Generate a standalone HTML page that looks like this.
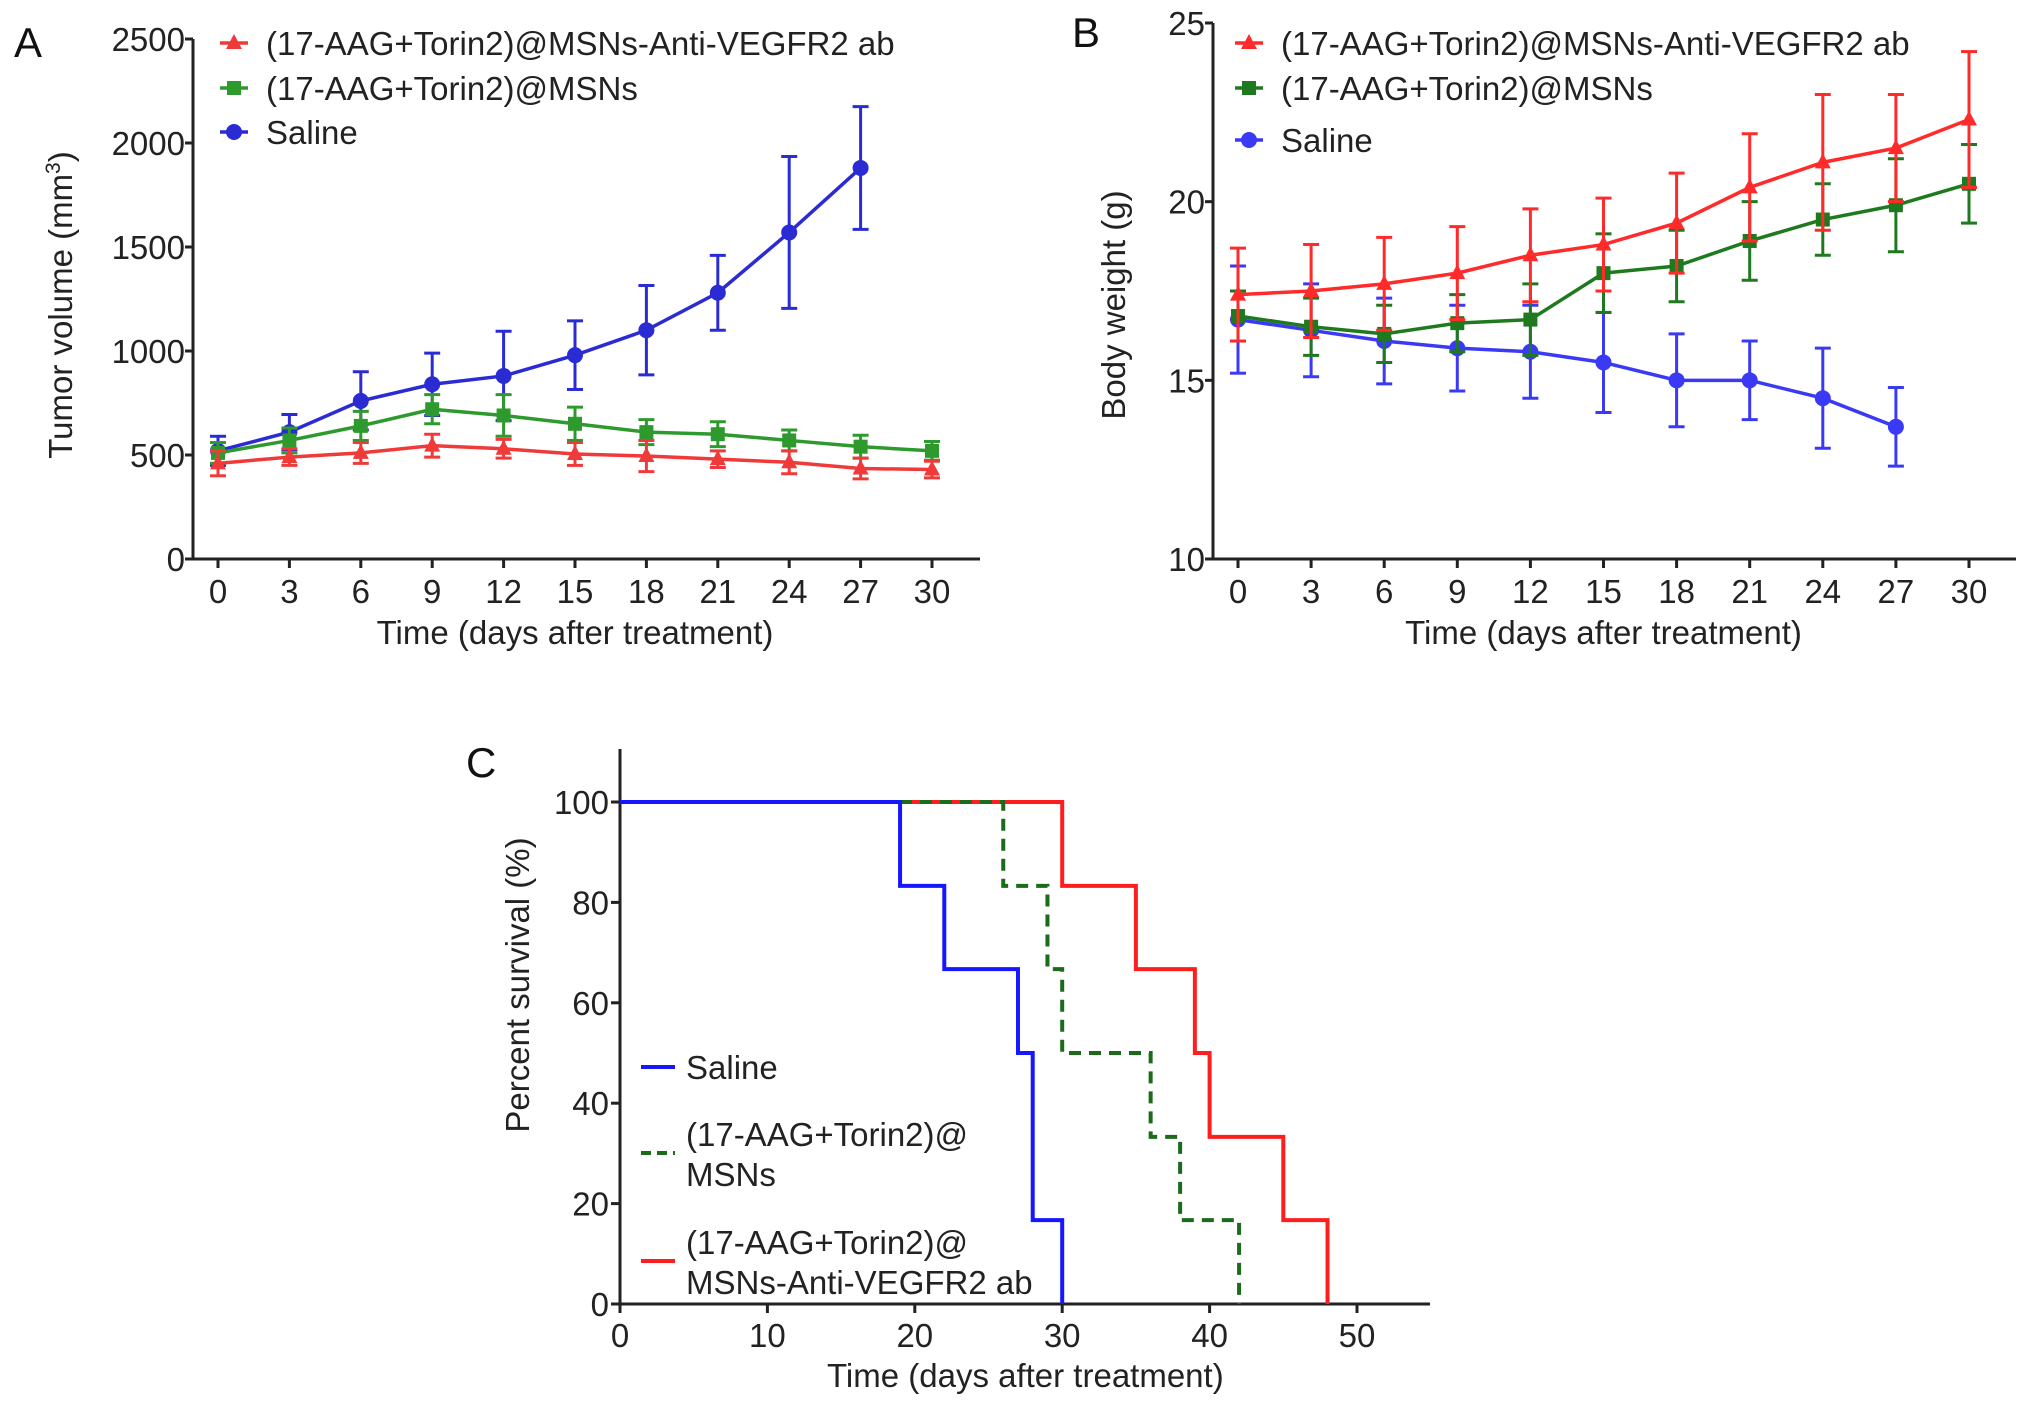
<!DOCTYPE html>
<html><head><meta charset="utf-8"><style>
html,body{margin:0;padding:0;background:#fff;}
svg{display:block;font-family:"Liberation Sans",Arial,sans-serif;}
</style></head><body>
<svg id="fig" width="2032" height="1408" viewBox="0 0 2032 1408" xmlns="http://www.w3.org/2000/svg"></svg>
<script>
// ---- Panel A data ----
const daysA = [0,3,6,9,12,15,18,21,24,27,30];
const tumorRed = [460,490,510,545,530,505,495,480,465,435,430];
const tumorRedErr = [60,40,50,55,45,55,75,40,55,50,40];
const tumorGreen = [510,570,640,720,690,650,610,600,570,540,520];
const tumorGreenErr = [50,60,70,70,100,80,60,60,50,55,45];
const tumorBlue = [520,610,760,840,880,980,1100,1280,1570,1880];
const tumorBlueErr = [70,85,140,150,215,165,215,180,365,295];
const tickA = [0,500,1000,1500,2000,2500];
// ---- Panel B data ----
const weightRed = [17.4,17.5,17.7,18.0,18.5,18.8,19.4,20.4,21.1,21.5,22.3];
const weightRedErr = [1.3,1.3,1.3,1.3,1.3,1.3,1.4,1.5,1.9,1.5,1.9];
const weightGreen = [16.8,16.5,16.3,16.6,16.7,18.0,18.2,18.9,19.5,19.9,20.5];
const weightGreenErr = [0.7,0.8,0.8,0.8,1.0,1.1,1.0,1.1,1.0,1.3,1.1];
const weightBlue = [16.7,16.4,16.1,15.9,15.8,15.5,15.0,15.0,14.5,13.7];
const weightBlueErr = [1.5,1.3,1.2,1.2,1.3,1.4,1.3,1.1,1.4,1.1];
const tickB = [10,15,20,25];
// ---- Panel C data ----
const survBlueT = [0,19,22,27,28,30];
const survBlueV = [100,83.3,66.7,50,16.7,0];
const survGreenT = [0,26,29,30,36,38,42];
const survGreenV = [100,83.3,66.7,50,33.3,16.7,0];
const survRedT = [0,30,35,39,40,45,48];
const survRedV = [100,83.3,66.7,50,33.3,16.7,0];
const tickCx = [0,10,20,30,40,50];
const tickCy = [0,20,40,60,80,100];

const FS = 33;
const svg = document.getElementById('fig');
const NS = 'http://www.w3.org/2000/svg';
function el(tag, attrs, parent){const e=document.createElementNS(NS,tag);for(const k in attrs)e.setAttribute(k,attrs[k]);(parent||svg).appendChild(e);return e;}
function txt(x,y,s,attrs,parent){const t=el('text',Object.assign({x:x,y:y},attrs||{}),parent);t.textContent=s;return t;}

function marker(g,shape,x,y,c){
  let m;
  if(shape==='tri') m=el('polygon',{points:`${x},${y-9} ${x-8},${y+6} ${x+8},${y+6}`,fill:c},g);
  else if(shape==='sq') m=el('rect',{x:x-7,y:y-7,width:14,height:14,fill:c},g);
  else m=el('circle',{cx:x,cy:y,r:8,fill:c},g);
  return m;
}

function linePanel(cfg){
  const g=el('g',{});
  
  
  const X=d=>cfg.x0+(d-0)/30*(cfg.x30-cfg.x0);
  const Y=v=>cfg.yb+(v-cfg.ymin)/(cfg.ymax-cfg.ymin)*(cfg.yt-cfg.yb);
  const ax=el('line',{x1:cfg.ax,y1:cfg.yt,x2:cfg.ax,y2:cfg.yb,stroke:'#222','stroke-width':3},g);
  
  const bx=el('line',{x1:cfg.ax,y1:cfg.yb,x2:cfg.xend,y2:cfg.yb,stroke:'#222','stroke-width':3},g);
  
  cfg.yticks.forEach(v=>{
    el('line',{x1:cfg.ax-8,y1:Y(v),x2:cfg.ax,y2:Y(v),stroke:'#222','stroke-width':3},g);
    const t=txt(cfg.ax-8,Y(v)+12,String(v),{'font-size':FS,'text-anchor':'end',fill:'#222'},g);
    
  });
  daysA.forEach(d=>{
    el('line',{x1:X(d),y1:cfg.yb,x2:X(d),y2:cfg.yb+9,stroke:'#222','stroke-width':3},g);
    const t=txt(X(d),cfg.yb+44,String(d),{'font-size':FS,'text-anchor':'middle',fill:'#222'},g);
    
  });
  const xt=txt((cfg.x0+cfg.x30)/2,cfg.yb+85,'Time (days after treatment)',{'font-size':FS,'text-anchor':'middle',fill:'#222'},g);
  
  const yt=txt(0,0,'',{'font-size':FS,'text-anchor':'middle',fill:'#222',transform:`translate(${cfg.ytx},${cfg.yty}) rotate(-90)`},g);
  
  if(cfg.sup){yt.textContent='Tumor volume (mm';const s=el('tspan',{'font-size':21,dy:-12},yt);s.textContent='3';const s2=el('tspan',{dy:12},yt);s2.textContent=')';}
  else yt.textContent=cfg.ytitle;
  const pl=txt(cfg.lx,cfg.ly,cfg.letter,{'font-size':42,fill:'#111'},g);
  
  cfg.series.forEach(s=>{
    const sg=el('g',{},g);
    
    
    s.vals.forEach((v,i)=>{
      const x=X(daysA[i]),e=s.err[i];
      el('line',{x1:x,y1:Y(v-e),x2:x,y2:Y(v+e),stroke:s.c,'stroke-width':3},sg);
      el('line',{x1:x-8,y1:Y(v-e),x2:x+8,y2:Y(v-e),stroke:s.c,'stroke-width':3},sg);
      el('line',{x1:x-8,y1:Y(v+e),x2:x+8,y2:Y(v+e),stroke:s.c,'stroke-width':3},sg);
    });
    el('polyline',{points:s.vals.map((v,i)=>X(daysA[i])+','+Y(v)).join(' '),fill:'none',stroke:s.c,'stroke-width':3.5},sg);
    s.vals.forEach((v,i)=>{const m=marker(sg,s.shape,X(daysA[i]),Y(v),s.c);});
  });
  cfg.legend.forEach((L,i)=>{
    const lg=el('g',{},g);
    
    
    const y=cfg.legY[i];
    el('line',{x1:cfg.legX-14,y1:y,x2:cfg.legX+14,y2:y,stroke:L.c,'stroke-width':3.5},lg);
    marker(lg,L.shape,cfg.legX,y,L.c);
    txt(cfg.legX+32,y+12,L.t,{'font-size':FS,fill:'#222'},lg);
  });
}

const LT1='(17-AAG+Torin2)@MSNs-Anti-VEGFR2 ab', LT2='(17-AAG+Torin2)@MSNs';
linePanel({name:'panel-a-tumor-volume',ax:193,yt:39,yb:559,ymin:0,ymax:2500,x0:218,x30:932,xend:980,yticks:tickA,
  sup:true,ytx:72,yty:305,letter:'A',lx:14,ly:57,legX:234,legY:[43,88,132],
  series:[
    {name:'series-saline',vals:tumorBlue,err:tumorBlueErr,c:'#2b2bd4',shape:'ci'},
    {name:'series-msns',vals:tumorGreen,err:tumorGreenErr,c:'#2e9a2e',shape:'sq'},
    {name:'series-msns-anti-vegfr2',vals:tumorRed,err:tumorRedErr,c:'#f03a3a',shape:'tri'}],
  legend:[{t:LT1,c:'#f03a3a',shape:'tri'},{t:LT2,c:'#2e9a2e',shape:'sq'},{t:'Saline',c:'#2b2bd4',shape:'ci'}]});
linePanel({name:'panel-b-body-weight',ax:1213,yt:23,yb:559,ymin:10,ymax:25,x0:1238,x30:1969,xend:2016,yticks:tickB,
  ytitle:'Body weight (g)',ytx:1125,yty:305,letter:'B',lx:1072,ly:47,legX:1249,legY:[43,88,140],
  series:[
    {name:'series-saline',vals:weightBlue,err:weightBlueErr,c:'#3a3af5',shape:'ci'},
    {name:'series-msns',vals:weightGreen,err:weightGreenErr,c:'#1f7a1f',shape:'sq'},
    {name:'series-msns-anti-vegfr2',vals:weightRed,err:weightRedErr,c:'#ff2a2a',shape:'tri'}],
  legend:[{t:LT1,c:'#ff2a2a',shape:'tri'},{t:LT2,c:'#1f7a1f',shape:'sq'},{t:'Saline',c:'#3a3af5',shape:'ci'}]});

(function(){
  const g=el('g',{});
  
  
  const ax0=620, yb=1304, y100=802, x50=1357;
  const X=d=>ax0+d/50*(x50-ax0);
  const Y=v=>yb+v/100*(y100-yb);
  const a1=el('line',{x1:ax0,y1:749,x2:ax0,y2:yb,stroke:'#222','stroke-width':3},g);
  
  const a2=el('line',{x1:ax0,y1:yb,x2:1430,y2:yb,stroke:'#222','stroke-width':3},g);
  
  tickCy.forEach(v=>{
    el('line',{x1:ax0-9,y1:Y(v),x2:ax0,y2:Y(v),stroke:'#222','stroke-width':3},g);
    const t=txt(ax0-11,Y(v)+12,String(v),{'font-size':FS,'text-anchor':'end',fill:'#222'},g);
    
  });
  tickCx.forEach(d=>{
    el('line',{x1:X(d),y1:yb,x2:X(d),y2:yb+9,stroke:'#222','stroke-width':3},g);
    const t=txt(X(d),yb+43,String(d),{'font-size':FS,'text-anchor':'middle',fill:'#222'},g);
    
  });
  const xt=txt(X(27.5),1387,'Time (days after treatment)',{'font-size':FS,'text-anchor':'middle',fill:'#222'},g);
  
  const yt=txt(0,0,'Percent survival (%)',{'font-size':FS,'text-anchor':'middle',fill:'#222',transform:'translate(529,985) rotate(-90)'},g);
  
  const pl=txt(466,777,'C',{'font-size':42,fill:'#111'},g);
  
  function step(T,V,c,dash,name){
    let p='M'+X(T[0])+','+Y(V[0]);
    for(let i=1;i<T.length;i++){p+=' H'+X(T[i])+' V'+Y(V[i]);}
    const pa=el('path',{d:p,fill:'none',stroke:c,'stroke-width':4,'stroke-dasharray':dash||'none'},g);
    
  }
  step(survRedT,survRedV,'#ff1e1e',null,'survival-msns-anti-vegfr2');
  step(survGreenT,survGreenV,'#1b6b1b','12,8','survival-msns');
  step(survBlueT,survBlueV,'#1717ff',null,'survival-saline');
  const leg=[{t:['Saline'],c:'#1717ff',y:1067,d:null},{t:['(17-AAG+Torin2)@','MSNs'],c:'#1b6b1b',y:1153,d:'10,6'},{t:['(17-AAG+Torin2)@','MSNs-Anti-VEGFR2 ab'],c:'#ff1e1e',y:1261,d:null}];
  leg.forEach(L=>{
    const lg=el('g',{},g);
    
    
    el('line',{x1:641,y1:L.y,x2:675,y2:L.y,stroke:L.c,'stroke-width':4,'stroke-dasharray':L.d||'none'},lg);
    const y0=L.t.length===1?L.y+12:L.y-7;
    L.t.forEach((s,i)=>txt(686,y0+i*40,s,{'font-size':FS,fill:'#222'},lg));
  });
})();
</script>
</body></html>
